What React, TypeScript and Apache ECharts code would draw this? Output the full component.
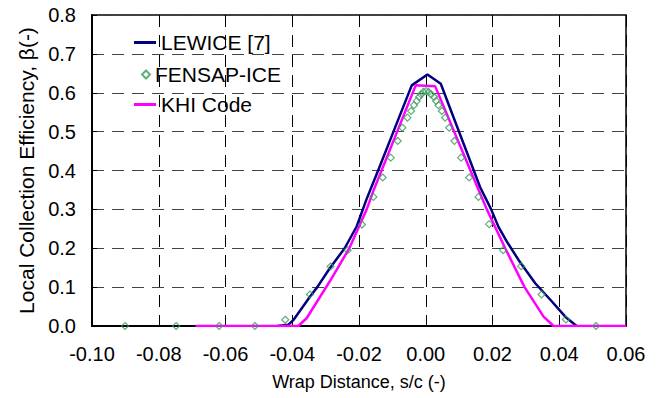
import React, { useEffect, useRef } from "react";
import * as echarts from "echarts";

const xTicks = [-0.1, -0.08, -0.06, -0.04, -0.02, 0.0, 0.02, 0.04, 0.06];
const yTicks = [0, 0.1, 0.2, 0.3, 0.4, 0.5, 0.6, 0.7, 0.8];

const lewiceX = [-0.0445, -0.0412, -0.0397, -0.0347, -0.0325, -0.0288, -0.0243, -0.0207, -0.0177, -0.014, -0.01, -0.0042, 0.0005, 0.0045, 0.008, 0.012, 0.0163, 0.0196, 0.0218, 0.0243, 0.0278, 0.0328, 0.0378, 0.0418, 0.0452];
const lewiceY = [0, 0.003, 0.015, 0.075, 0.1, 0.148, 0.2, 0.256, 0.327, 0.406, 0.493, 0.619, 0.647, 0.623, 0.544, 0.454, 0.357, 0.3, 0.255, 0.217, 0.17, 0.11, 0.063, 0.024, 0];

const khiX = [-0.069, -0.0382, -0.0357, -0.0286, -0.0229, -0.0177, -0.0155, -0.003, 0.0028, 0.0155, 0.0183, 0.0238, 0.0296, 0.0353, 0.0383, 0.06];
const khiY = [0, 0, 0.02, 0.117, 0.2, 0.3, 0.352, 0.619, 0.617, 0.357, 0.3, 0.2, 0.1, 0.024, 0, 0];

const fensapX = [-0.0901, -0.0748, -0.0619, -0.0512, -0.0421, -0.0347, -0.0285, -0.0234, -0.0191, -0.0157, -0.0129, -0.0105, -0.0084, -0.007, -0.0055, -0.0044, -0.0035, -0.0027, -0.002, -0.0014, -0.0007, 0.0001, 0.0009, 0.0016, 0.0025, 0.0031, 0.0038, 0.0048, 0.0058, 0.007, 0.0086, 0.0106, 0.013, 0.0158, 0.019, 0.0232, 0.0286, 0.0347, 0.042, 0.051];
const fensapY = [0, 0, 0, 0, 0.016, 0.081, 0.153, 0.195, 0.261, 0.332, 0.382, 0.433, 0.476, 0.51, 0.536, 0.553, 0.568, 0.579, 0.589, 0.596, 0.602, 0.604, 0.602, 0.596, 0.589, 0.579, 0.568, 0.553, 0.536, 0.51, 0.476, 0.433, 0.382, 0.332, 0.262, 0.195, 0.154, 0.081, 0.017, 0];

const names = ["LEWICE [7]", "FENSAP-ICE", "KHI Code"];

const zip = (xs: number[], ys: number[]) => xs.map((x, i) => [x, ys[i]]);

export default function App() {
  const ref = useRef<HTMLDivElement>(null);
  useEffect(() => {
    if (!ref.current) return;
    const chart = echarts.init(ref.current, null, { renderer: "svg" });
    const font = "Arial, 'Liberation Sans', sans-serif";
    const green = "#3a9a5c";
    const legendBase = {
      orient: "vertical" as const,
      itemGap: 0,
      textStyle: { fontFamily: font, fontSize: 21, color: "#000" },
      selectedMode: false,
    };
    chart.setOption({
      animation: false,
      backgroundColor: "#fff",
      textStyle: { fontFamily: font },
      grid: {
        left: 92,
        right: 37,
        top: 15,
        bottom: 72,
        show: true,
        borderColor: "#000",
        borderWidth: 1.5,
        containLabel: false,
      },
      legend: [
        { ...legendBase, left: 129, top: 27, itemWidth: 22, itemHeight: 3, itemTextGap: 4, data: [{ name: names[0], icon: "rect" }] },
        { ...legendBase, left: 136, top: 59, itemWidth: 8, itemHeight: 8, itemTextGap: 11, data: [{ name: names[1], icon: "diamond" }] },
        { ...legendBase, left: 129, top: 89, itemWidth: 22, itemHeight: 3, itemTextGap: 4, data: [{ name: names[2], icon: "rect" }] },
      ],
      xAxis: {
        type: "value",
        min: xTicks[0],
        max: xTicks[xTicks.length - 1],
        interval: 0.02,
        name: "Wrap Distance, s/c (-)",
        nameLocation: "middle",
        nameGap: 47,
        nameTextStyle: { fontFamily: font, fontSize: 18, color: "#000" },
        axisLine: { onZero: false, lineStyle: { color: "#000", width: 2 } },
        axisTick: { inside: true, length: 5, lineStyle: { color: "#000" } },
        axisLabel: {
          fontFamily: font,
          fontSize: 20,
          color: "#000",
          margin: 18,
          formatter: (v: number) => v.toFixed(2),
        },
        splitLine: { show: true, lineStyle: { color: "#000", type: [12, 8], width: 1 } },
      },
      yAxis: {
        type: "value",
        min: yTicks[0],
        max: yTicks[yTicks.length - 1],
        interval: 0.1,
        name: "Local Collection Efficiency, β(-)",
        nameLocation: "middle",
        nameGap: 54,
        nameTextStyle: { fontFamily: font, fontSize: 21, color: "#000" },
        axisLine: { onZero: false, lineStyle: { color: "#000", width: 2 } },
        axisTick: { inside: true, length: 5, lineStyle: { color: "#000" } },
        axisLabel: {
          fontFamily: font,
          fontSize: 20,
          color: "#000",
          margin: 16,
          formatter: (v: number) => v.toFixed(1),
        },
        splitLine: { show: true, lineStyle: { color: "#444", type: [12, 8], width: 1 } },
      },
      series: [
        {
          name: names[0],
          type: "line",
          data: zip(lewiceX, lewiceY),
          symbol: "none",
          color: "#000080",
          lineStyle: { color: "#000080", width: 2.5 },
          z: 3,
        },
        {
          name: names[2],
          type: "line",
          data: zip(khiX, khiY),
          symbol: "none",
          color: "#ff00ff",
          lineStyle: { color: "#ff00ff", width: 2.5 },
          z: 3,
        },
        {
          name: names[1],
          type: "scatter",
          data: zip(fensapX, fensapY),
          symbol: "diamond",
          symbolSize: 7,
          itemStyle: { color: "rgba(255,255,255,0)", borderColor: green, borderWidth: 1.2 },
          z: 4,
        },
      ],
    });
    return () => chart.dispose();
  }, []);
  return <div ref={ref} style={{ width: 663, height: 398, position: "absolute", left: 0, top: 0 }} />;
}
